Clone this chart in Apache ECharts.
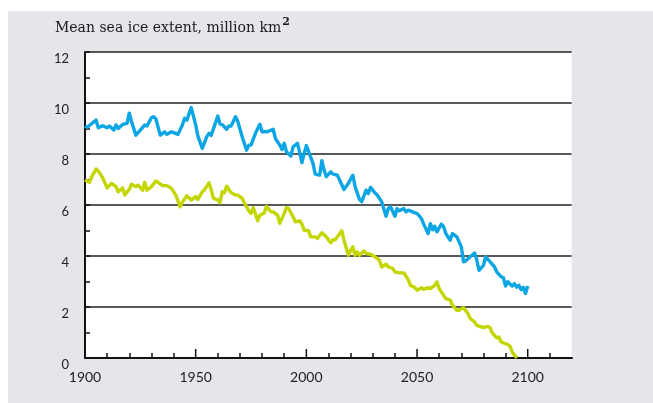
<!DOCTYPE html>
<html>
<head>
<meta charset="utf-8">
<script src="https://cdn.jsdelivr.net/npm/echarts@6/dist/echarts.min.js"></script>
<style>
  html, body { margin: 0; padding: 0; background: #fff; }
  #myChart { position: absolute; left: 0; top: 0; width: 653px; height: 403px; }
</style>
</head>
<body>
<div id="myChart"></div>
<script>
// values (year, million km2)
const blueYears = [1900, 1901, 1905, 1906, 1908, 1910, 1911, 1913, 1914, 1915, 1917, 1919, 1920, 1921, 1923, 1925, 1927, 1928, 1930, 1931, 1932, 1934, 1936, 1937, 1939, 1941, 1942, 1944, 1945, 1946, 1948, 1950, 1951, 1953, 1955, 1956, 1957, 1960, 1961, 1962, 1964, 1965, 1966, 1968, 1969, 1971, 1973, 1974, 1975, 1977, 1979, 1980, 1982, 1983, 1985, 1986, 1988, 1989, 1990, 1991, 1993, 1994, 1996, 1998, 1999, 2000, 2003, 2004, 2006, 2007, 2008, 2009, 2011, 2012, 2014, 2015, 2017, 2019, 2021, 2022, 2024, 2025, 2027, 2028, 2029, 2031, 2032, 2034, 2036, 2037, 2038, 2040, 2041, 2042, 2044, 2045, 2046, 2049, 2050, 2052, 2053, 2055, 2056, 2057, 2058, 2059, 2061, 2062, 2063, 2065, 2066, 2068, 2070, 2071, 2072, 2074, 2076, 2077, 2078, 2080, 2081, 2083, 2085, 2086, 2088, 2089, 2090, 2091, 2093, 2094, 2095, 2096, 2097, 2098, 2099, 2100];
const blueValues = [9.1, 9.05, 9.33, 9.03, 9.11, 9.03, 9.1, 8.94, 9.14, 9.0, 9.16, 9.2, 9.6, 9.27, 8.74, 8.94, 9.14, 9.1, 9.42, 9.46, 9.38, 8.74, 8.87, 8.77, 8.87, 8.81, 8.77, 9.14, 9.4, 9.33, 9.82, 9.14, 8.7, 8.22, 8.68, 8.81, 8.73, 9.49, 9.17, 9.15, 8.97, 9.1, 9.1, 9.46, 9.28, 8.68, 8.15, 8.35, 8.35, 8.81, 9.17, 8.87, 8.87, 8.9, 8.97, 8.61, 8.35, 8.18, 8.42, 8.09, 7.92, 8.28, 8.42, 7.66, 8.02, 8.33, 7.63, 7.21, 7.17, 7.74, 7.37, 7.11, 7.3, 7.21, 7.17, 6.98, 6.61, 6.85, 7.17, 6.72, 6.22, 6.13, 6.58, 6.45, 6.69, 6.47, 6.39, 6.13, 5.56, 5.86, 5.93, 5.56, 5.86, 5.77, 5.86, 5.73, 5.8, 5.69, 5.67, 5.47, 5.25, 4.88, 5.27, 5.03, 5.17, 4.95, 5.25, 5.15, 4.88, 4.62, 4.88, 4.75, 4.36, 3.77, 3.81, 3.97, 4.12, 3.84, 3.44, 3.63, 3.97, 3.77, 3.57, 3.38, 3.18, 3.15, 2.82, 2.99, 2.82, 2.92, 2.78, 2.85, 2.69, 2.77, 2.53, 2.82];

const greenYears = [1900, 1902, 1903, 1905, 1906, 1908, 1910, 1912, 1914, 1915, 1917, 1918, 1920, 1921, 1923, 1924, 1926, 1927, 1928, 1930, 1932, 1933, 1935, 1937, 1939, 1941, 1943, 1944, 1946, 1948, 1950, 1951, 1953, 1954, 1956, 1957, 1958, 1960, 1961, 1962, 1963, 1964, 1966, 1968, 1969, 1971, 1972, 1974, 1975, 1976, 1978, 1979, 1981, 1982, 1984, 1985, 1987, 1988, 1990, 1991, 1992, 1994, 1995, 1997, 1998, 1999, 2000, 2001, 2002, 2004, 2005, 2007, 2009, 2011, 2012, 2013, 2014, 2016, 2017, 2019, 2020, 2021, 2022, 2023, 2024, 2026, 2027, 2029, 2031, 2033, 2034, 2036, 2037, 2039, 2040, 2042, 2044, 2046, 2047, 2049, 2050, 2052, 2053, 2055, 2056, 2058, 2059, 2060, 2062, 2063, 2065, 2066, 2068, 2069, 2070, 2071, 2073, 2074, 2076, 2077, 2079, 2080, 2082, 2083, 2084, 2086, 2087, 2088, 2090, 2091, 2092, 2093, 2095];
const greenValues = [6.98, 6.89, 7.1, 7.41, 7.33, 7.07, 6.67, 6.85, 6.72, 6.52, 6.67, 6.39, 6.62, 6.81, 6.72, 6.78, 6.58, 6.89, 6.58, 6.72, 6.94, 6.89, 6.76, 6.76, 6.65, 6.39, 5.93, 6.12, 6.36, 6.19, 6.33, 6.22, 6.52, 6.6, 6.87, 6.6, 6.26, 6.2, 6.09, 6.52, 6.48, 6.74, 6.48, 6.39, 6.39, 6.26, 6.09, 5.77, 5.67, 5.9, 5.38, 5.6, 5.69, 5.95, 5.73, 5.73, 5.6, 5.28, 5.67, 5.9, 5.86, 5.54, 5.34, 5.38, 5.25, 5.01, 5.0, 4.99, 4.75, 4.75, 4.69, 4.91, 4.75, 4.52, 4.64, 4.64, 4.75, 4.99, 4.62, 4.03, 4.23, 4.36, 4.03, 4.16, 4.03, 4.2, 4.1, 4.07, 3.97, 3.84, 3.57, 3.68, 3.57, 3.51, 3.38, 3.34, 3.34, 3.08, 2.85, 2.76, 2.66, 2.76, 2.69, 2.76, 2.72, 2.85, 2.98, 2.72, 2.46, 2.33, 2.27, 2.07, 1.87, 1.87, 1.94, 1.97, 1.74, 1.55, 1.41, 1.28, 1.22, 1.19, 1.24, 1.19, 0.98, 0.79, 0.82, 0.63, 0.56, 0.53, 0.46, 0.24, 0.0];

const yearLabels = [1900, 1950, 2000, 2050, 2100];
const majorTicks = [1950, 2000, 2050, 2100];
const minorTicks = [1910, 1920, 1930, 1940, 1960, 1970, 1980, 1990, 2010, 2020, 2030, 2040, 2060, 2070, 2080, 2090, 2110];
const titleMain = 'Mean sea ice extent, million km';
const titleSup = '2';

const pairs = (xs, ys) => xs.map((x, i) => [x, ys[i]]);

let myEchart = echarts.init(document.getElementById('myChart'));
myEchart.setOption({
    animation: false,
    backgroundColor: '#fff',
    graphic: [
        // grey panel behind everything, white plot area on it
        { type: 'rect', z: -10, silent: true, shape: { x: 8, y: 11, width: 645, height: 392 }, style: { fill: '#e5e5ea' } },
        { type: 'rect', z: -9, silent: true, shape: { x: 85, y: 52, width: 487, height: 306 }, style: { fill: '#fff' } },
        // keep the right edge of the plot open, as in the original
        { type: 'rect', z: 100, silent: true, shape: { x: 571.6, y: 49, width: 4, height: 307.5 }, style: { fill: '#e5e5ea' } }
    ],
    title: {
        text: '{t|' + titleMain + '}{s|' + titleSup + '}',
        left: 55,
        top: 17,
        padding: 0,
        textStyle: {
            fontWeight: 'normal',
            rich: {
                t: { fontFamily: 'DejaVu Serif', fontSize: 14, fontWeight: 'normal', color: '#1a1a1a', lineHeight: 22 },
                s: { fontFamily: 'DejaVu Serif', fontSize: 11, fontWeight: 'bold', color: '#1a1a1a', lineHeight: 10, verticalAlign: 'top', padding: [0, 0, 0, 1] }
            }
        }
    },
    grid: { left: 85, top: 52, right: 81, bottom: 45, show: false },
    xAxis: {
        type: 'value', min: 1900, max: 2120,
        axisLine: { lineStyle: { color: '#111', width: 2 } },
        axisTick: { inside: true, length: 5, lineStyle: { color: '#111', width: 1.5 }, customValues: minorTicks },
        axisLabel: { customValues: yearLabels, margin: 12, color: '#222', fontFamily: 'Lato', fontSize: 14,
            formatter: v => String(v) },
        splitLine: { show: false }
    },
    yAxis: {
        type: 'value', min: 0, max: 12, interval: 2,
        axisLine: { show: true, lineStyle: { color: '#111', width: 2 } },
        axisTick: { show: true, inside: true, length: 5, lineStyle: { color: '#111', width: 1.5 } },
        minorTick: { show: true, splitNumber: 2, length: 5, lineStyle: { color: '#111', width: 1.5 } },
        axisLabel: { margin: 16, color: '#222', fontFamily: 'Lato', fontSize: 13, verticalAlign: 'top' },
        splitLine: { lineStyle: { color: '#222', width: 1.5 } }
    },
    series: [
        {
            name: 'blue', type: 'line', showSymbol: false,
            lineStyle: { color: '#0ba6e3', width: 3.4, join: 'round' },
            data: pairs(blueYears, blueValues)
        },
        {
            name: 'green', type: 'line', showSymbol: false,
            lineStyle: { color: '#c3d600', width: 3.4, join: 'round' },
            data: pairs(greenYears, greenValues)
        },
        {
            // longer ticks every 50 years, placed through the x scale
            name: 'majorTicks', type: 'custom', silent: true, clip: false, z: 5,
            data: majorTicks.map(v => [v, 0]),
            renderItem: (params, api) => {
                const p = api.coord([api.value(0), 0]);
                return {
                    type: 'line',
                    shape: { x1: p[0], y1: p[1], x2: p[0], y2: p[1] - 9 },
                    style: { stroke: '#111', lineWidth: 1.5 }
                };
            }
        }
    ]
});
window.addEventListener('resize', function () {
    myEchart.resize();
});
</script>
</body>
</html>
